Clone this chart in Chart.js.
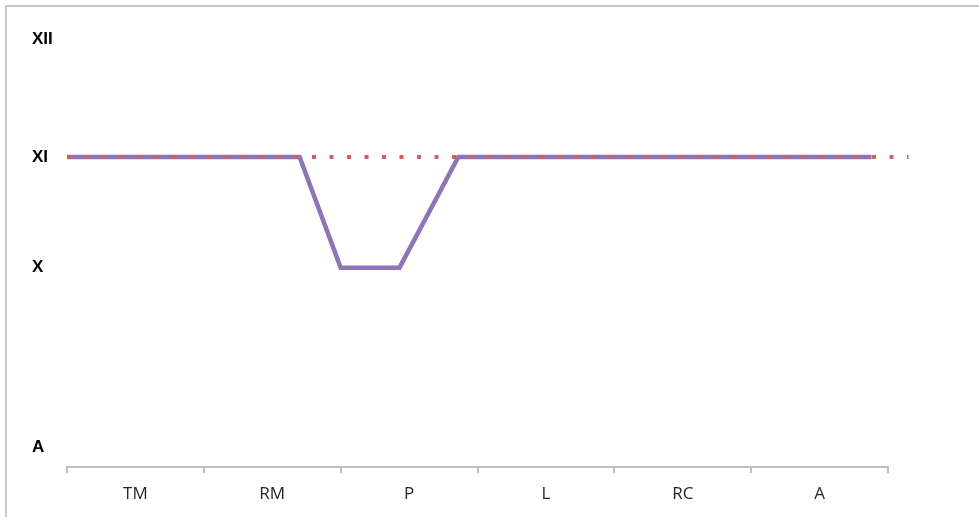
<!DOCTYPE html>
<html>
<head>
<meta charset="utf-8">
<script src="https://cdn.jsdelivr.net/npm/chart.js@4/dist/chart.umd.min.js"></script>
<style>
    html, body { margin: 0; padding: 0; background: #fff; overflow: hidden; }
    #frame {
        position: absolute; left: 5px; top: 5px; width: 2000px; height: 2000px;
        border-left: 2px solid #c6c6c6; border-top: 2px solid #c6c6c6;
    }
    #wrap { position: absolute; left: 0; top: 0; width: 979px; height: 517px; }
</style>
</head>
<body>
<div id="frame"></div>
<div id="wrap"><canvas id="chart"></canvas></div>
<script>
const categories = ["TM", "RM", "P", "L", "RC", "A"];

// y tick positions and their labels (uneven spacing, as in the picture)
const y_tick_values = [8.38, 10, 11, 12.06];
const y_tick_labels = ["A", "X", "XI", "XII"];

// purple series, x in category widths from the left edge of the axis
const level_x = [0, 1.7, 2.0, 2.43, 2.86, 5.88];
const level_y = [11, 11, 10, 10, 11, 11];

// red dotted reference line
const reference_x = [0, 6.15];
const reference_y = [11, 11];

function toPoints(xs, ys) {
    return xs.map((x, i) => ({ x: x, y: ys[i] }));
}

const tick_label_by_value = {};
y_tick_values.forEach((value, i) => {
    tick_label_by_value[value] = y_tick_labels[i];
});

function drawChart() {
    const chart_element = document.getElementById("chart");
    new Chart(chart_element, {
        type: "line",
        data: {
            labels: categories,
            datasets: [
                {
                    label: "reference",
                    data: toPoints(reference_x, reference_y),
                    xAxisID: "xl",
                    borderColor: "#d0605a",
                    borderWidth: 4,
                    borderDash: [4, 13.5],
                    borderCapStyle: "butt",
                    pointRadius: 0,
                    tension: 0,
                    clip: false,
                    order: 0,
                },
                {
                    label: "level",
                    data: toPoints(level_x, level_y),
                    xAxisID: "xl",
                    borderColor: "#8d74b6",
                    borderWidth: 4.5,
                    borderJoinStyle: "miter",
                    pointRadius: 0,
                    tension: 0,
                    clip: false,
                    order: 1,
                },
            ],
        },
        options: {
            responsive: true,
            maintainAspectRatio: false,
            animation: false,
            layout: { padding: { left: 32, top: 24, right: 91, bottom: 0 } },
            plugins: {
                legend: { display: false },
                tooltip: { enabled: false },
            },
            scales: {
                x: {
                    type: "category",
                    offset: true,
                    grid: {
                        offset: true,
                        drawOnChartArea: false,
                        drawTicks: true,
                        tickLength: 6,
                        color: "#bfbfbf",
                        lineWidth: 2,
                    },
                    border: { color: "#bfbfbf", width: 2 },
                    ticks: {
                        color: "#262626",
                        padding: 11,
                        maxRotation: 0,
                        font: { family: "Open Sans", size: 17 },
                    },
                    afterFit: (scale) => { scale.height = 50; },
                },
                xl: {
                    type: "linear",
                    display: false,
                    min: 0,
                    max: 6,
                },
                y: {
                    type: "linear",
                    min: 8.2,
                    max: 12.2,
                    grid: { display: false },
                    border: { display: false },
                    afterBuildTicks: (scale) => {
                        scale.ticks = y_tick_values.map((v) => ({ value: v }));
                    },
                    afterFit: (scale) => { scale.width = 35; },
                    ticks: {
                        crossAlign: "far",
                        padding: 0,
                        color: "#000",
                        font: { family: "Liberation Sans", size: 17, weight: "bold" },
                        callback: (value) => tick_label_by_value[value] ?? "",
                    },
                },
            },
        },
    });
}

drawChart();
</script>
</body>
</html>
